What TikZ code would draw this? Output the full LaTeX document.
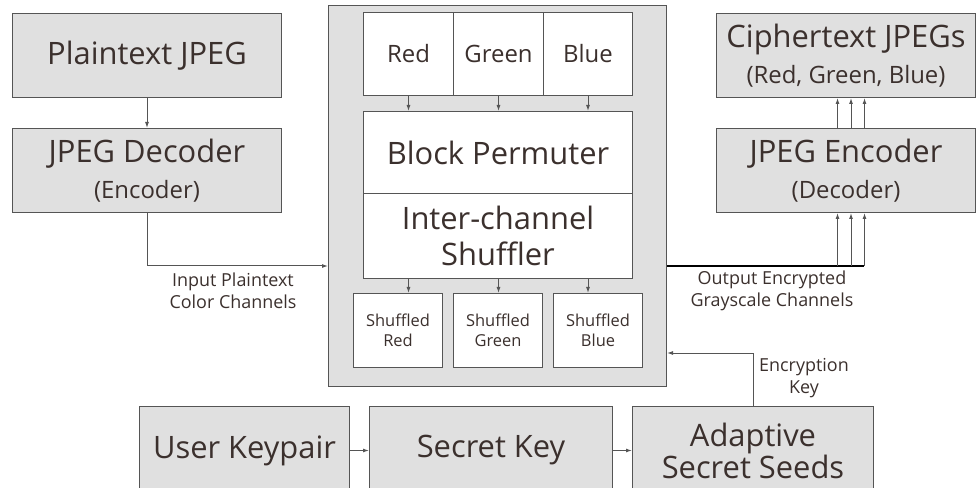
\documentclass[tikz,border=0pt]{standalone}
\usepackage{fontspec}
\setmainfont{Open Sans}
\usepackage{tikz}
\usetikzlibrary{arrows.meta,positioning,calc}
\definecolor{pipeGrey}{HTML}{E0E0E0}
\definecolor{pipeLine}{HTML}{555555}
\definecolor{pipeInk}{HTML}{3B302D}
\newcommand{\bigFont}{\fontsize{31}{36}\selectfont}
\newcommand{\midFont}{\fontsize{24}{31}\selectfont}
\newcommand{\smallFont}{\fontsize{18}{22}\selectfont}
\newcommand{\tinyFont}{\fontsize{16.5}{20}\selectfont}
\tikzset{
  stage/.style={
    rectangle,
    draw=pipeLine,
    fill=pipeGrey,
    line width=1bp,
    inner sep=0pt,
    anchor=north west,
    align=center,
    text=pipeInk,
    font=\bigFont
  },
  inner/.style={
    stage,
    fill=white
  },
  note/.style={
    align=center,
    text=pipeInk,
    font=\smallFont
  },
  flow/.style={
    -{Latex[length=6bp,width=4bp]},
    line width=1bp,
    draw=pipeLine
  },
  bus/.style={
    line width=2bp,
    draw=black
  }
}

\begin{document}
\begin{tikzpicture}[x=1bp,y=-1bp]
  \useasboundingbox (0,0) rectangle (976,488);
  % left column
  \node[stage,minimum width=269bp,minimum height=84bp] (plain) at (12,13) {Plaintext JPEG};
  \node[stage,minimum width=269bp,minimum height=84bp] (decoder) at (12,128) {JPEG Decoder\\{\midFont (Encoder)}};
  % cipher block
  \node[stage,minimum width=338bp,minimum height=381bp] (big) at (328,5) {};
  \node[inner,font=\midFont,minimum width=90bp,minimum height=83bp] (red) at (363,12) {Red};
  \node[inner,font=\midFont,minimum width=90bp,minimum height=83bp] (green) at (453,12) {Green};
  \node[inner,font=\midFont,minimum width=89bp,minimum height=83bp] (blue) at (543,12) {Blue};
  \node[inner,minimum width=269bp,minimum height=82bp] (perm) at (363,111) {Block Permuter};
  \node[inner,minimum width=269bp,minimum height=85bp] (shuf) at (363,193) {Inter-channel\\Shuffler};
  \node[inner,font=\tinyFont,minimum width=89bp,minimum height=74bp] (sred) at (353,293) {Shuffled\\Red};
  \node[inner,font=\tinyFont,minimum width=89bp,minimum height=74bp] (sgreen) at (453,293) {Shuffled\\Green};
  \node[inner,font=\tinyFont,minimum width=89bp,minimum height=74bp] (sblue) at (553,293) {Shuffled\\Blue};
  % right column
  \node[stage,minimum width=259bp,minimum height=84bp] (cipher) at (716,13) {Ciphertext JPEGs\\{\midFont (Red, Green, Blue)}};
  \node[stage,minimum width=259bp,minimum height=84bp] (encoder) at (716,128) {JPEG Encoder\\{\midFont (Decoder)}};
  % key chain
  \node[stage,minimum width=210bp,minimum height=88bp] (keypair) at (139,406) {User Keypair};
  \node[stage,minimum width=243bp,minimum height=88bp] (secret) at (369,406) {Secret Key};
  \node[stage,minimum width=241bp,minimum height=88bp] (seeds) at (632,406) {Adaptive\\[-4bp]Secret Seeds};

  \coordinate (bigIn) at (big.west |- 0,266);
  \coordinate (bigOut) at (big.east |- 0,266);
  \coordinate (busEnd) at (864,266);
  \coordinate (keyIn) at (big.east |- 0,353);

  \draw[flow] (plain) -- (decoder);
  \draw[flow] (decoder.south) |- (bigIn);
  \foreach \ch/\sh in {red/sred,green/sgreen,blue/sblue} {
    \draw[flow] (\ch.south) -- (\ch.south |- perm.north);
    \draw[flow] (\ch.south |- shuf.south) -- (\ch.south |- \sh.north);
  }
  \draw[bus] (bigOut) -- (busEnd);
  \foreach \dx in {-8.5,5,18.5} {
    \draw[flow] ([xshift=\dx bp]encoder.south |- busEnd) -- ([xshift=\dx bp]encoder.south);
    \draw[flow] ([xshift=\dx bp]encoder.north) -- ([xshift=\dx bp]cipher.south);
  }
  \draw[flow] (seeds.north) |- (keyIn);
  \draw[flow] (keypair) -- (secret);
  \draw[flow] (secret) -- (seeds);

  \node[note] (inLabel) at (233,291) {Input Plaintext\\Color Channels};
  \node[note] (outLabel) at (772,291) {Output Encrypted\\Grayscale Channels};
  \node[note] (keyLabel) at (804,378) {Encryption\\Key};
\end{tikzpicture}
\end{document}
